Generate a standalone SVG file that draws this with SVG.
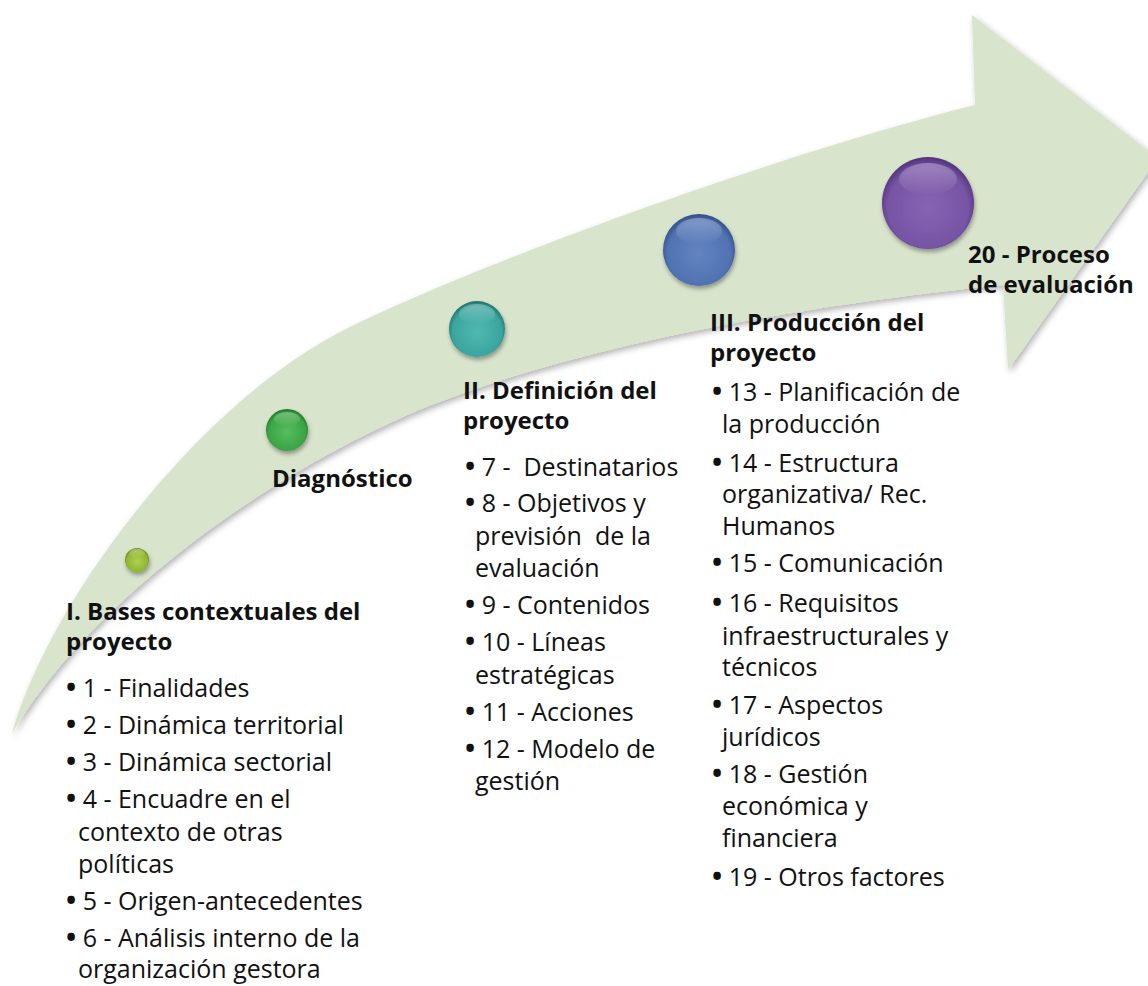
<svg xmlns="http://www.w3.org/2000/svg" width="1148" height="986" viewBox="0 0 1148 986">
<style>
text{font-family:"Open Sans","Noto Sans","Liberation Sans",sans-serif;fill:#111}
.h{font-size:24px;font-weight:bold}
.b{font-size:25px}
.bu{font-weight:bold;font-size:27px}
</style>
<defs>
<filter id="sh" x="-10%" y="-10%" width="120%" height="120%">
<feDropShadow dx="2" dy="3" stdDeviation="3" flood-color="#000" flood-opacity="0.3"/>
</filter>
<filter id="ssh" x="-40%" y="-40%" width="180%" height="180%">
<feDropShadow dx="1" dy="3" stdDeviation="2" flood-color="#000" flood-opacity="0.35"/>
</filter>
<radialGradient id="gYg" cx="50%" cy="55%" r="55%">
<stop offset="0" stop-color="#afd150"/><stop offset="0.8" stop-color="#8fb632"/><stop offset="1" stop-color="#5f7f1a"/>
</radialGradient>
<radialGradient id="gGr" cx="50%" cy="55%" r="55%">
<stop offset="0" stop-color="#56bd5f"/><stop offset="0.8" stop-color="#3aa445"/><stop offset="1" stop-color="#22742b"/>
</radialGradient>
<radialGradient id="gTe" cx="50%" cy="55%" r="55%">
<stop offset="0" stop-color="#4fb9b2"/><stop offset="0.8" stop-color="#3aa59e"/><stop offset="1" stop-color="#216e69"/>
</radialGradient>
<radialGradient id="gBl" cx="50%" cy="55%" r="55%">
<stop offset="0" stop-color="#6384c0"/><stop offset="0.8" stop-color="#5072b2"/><stop offset="1" stop-color="#304e88"/>
</radialGradient>
<radialGradient id="gPu" cx="50%" cy="55%" r="55%">
<stop offset="0" stop-color="#8865b4"/><stop offset="0.8" stop-color="#7753a4"/><stop offset="1" stop-color="#4f3278"/>
</radialGradient>
<linearGradient id="hl" x1="0" y1="0" x2="0" y2="1">
<stop offset="0" stop-color="#fff" stop-opacity="0.3"/><stop offset="1" stop-color="#fff" stop-opacity="0"/>
</linearGradient>
</defs>

<g id="arrow">
<path d="M 12,733 C 50,600 200,400 350,327 C 500,254 795,150 975,105 L 972,15 L 1158,158 L 1008,370 L 1003,285 C 850,300 620,335 453,397 C 330,440 110,570 12,733 Z" fill="#d9e4cd" filter="url(#sh)"/>
</g>

<g id="stage1">
<circle cx="137" cy="560" r="12" fill="url(#gYg)" filter="url(#ssh)"/>
<ellipse cx="137" cy="553" rx="8" ry="4.5" fill="url(#hl)"/>
<text class="h" x="66" y="620">I. Bases contextuales del</text>
<text class="h" x="66" y="650">proyecto</text>
<text class="b" x="66" y="697"><tspan class="bu">•</tspan> 1 - Finalidades</text>
<text class="b" x="66" y="734"><tspan class="bu">•</tspan> 2 - Dinámica territorial</text>
<text class="b" x="66" y="771"><tspan class="bu">•</tspan> 3 - Dinámica sectorial</text>
<text class="b" x="66" y="808"><tspan class="bu">•</tspan> 4 - Encuadre en el</text>
<text class="b" x="78" y="841">contexto de otras</text>
<text class="b" x="78" y="873">políticas</text>
<text class="b" x="66" y="910"><tspan class="bu">•</tspan> 5 - Origen-antecedentes</text>
<text class="b" x="66" y="947"><tspan class="bu">•</tspan> 6 - Análisis interno de la</text>
<text class="b" x="78" y="978">organización gestora</text>
</g>

<g id="diagnostico">
<circle cx="287" cy="430" r="21" fill="url(#gGr)" filter="url(#ssh)"/>
<ellipse cx="287" cy="419" rx="13" ry="7" fill="url(#hl)"/>
<text class="h" x="272" y="487">Diagnóstico</text>
</g>

<g id="stage2">
<circle cx="477" cy="329" r="28" fill="url(#gTe)" filter="url(#ssh)"/>
<ellipse cx="477" cy="314" rx="18" ry="10" fill="url(#hl)"/>
<text class="h" x="463" y="399">II. Definición del</text>
<text class="h" x="463" y="429">proyecto</text>
<text class="b" x="465" y="476" xml:space="preserve"><tspan class="bu">•</tspan> 7 -  Destinatarios</text>
<text class="b" x="465" y="512"><tspan class="bu">•</tspan> 8 - Objetivos y</text>
<text class="b" x="475" y="545" xml:space="preserve">previsión  de la</text>
<text class="b" x="475" y="577">evaluación</text>
<text class="b" x="465" y="614"><tspan class="bu">•</tspan> 9 - Contenidos</text>
<text class="b" x="465" y="651"><tspan class="bu">•</tspan> 10 - Líneas</text>
<text class="b" x="475" y="684">estratégicas</text>
<text class="b" x="465" y="721"><tspan class="bu">•</tspan> 11 - Acciones</text>
<text class="b" x="465" y="758"><tspan class="bu">•</tspan> 12 - Modelo de</text>
<text class="b" x="475" y="790">gestión</text>
</g>

<g id="stage3">
<circle cx="699" cy="250" r="36" fill="url(#gBl)" filter="url(#ssh)"/>
<ellipse cx="699" cy="231" rx="23" ry="13" fill="url(#hl)"/>
<text class="h" x="710" y="331">III. Producción del</text>
<text class="h" x="710" y="361">proyecto</text>
<text class="b" x="712" y="401"><tspan class="bu">•</tspan> 13 - Planificación de</text>
<text class="b" x="722" y="433">la producción</text>
<text class="b" x="712" y="472"><tspan class="bu">•</tspan> 14 - Estructura</text>
<text class="b" x="722" y="503">organizativa/ Rec.</text>
<text class="b" x="722" y="535">Humanos</text>
<text class="b" x="712" y="572"><tspan class="bu">•</tspan> 15 - Comunicación</text>
<text class="b" x="712" y="612"><tspan class="bu">•</tspan> 16 - Requisitos</text>
<text class="b" x="722" y="645">infraestructurales y</text>
<text class="b" x="722" y="676">técnicos</text>
<text class="b" x="712" y="714"><tspan class="bu">•</tspan> 17 - Aspectos</text>
<text class="b" x="722" y="746">jurídicos</text>
<text class="b" x="712" y="783"><tspan class="bu">•</tspan> 18 - Gestión</text>
<text class="b" x="722" y="815">económica y</text>
<text class="b" x="722" y="847">financiera</text>
<text class="b" x="712" y="886"><tspan class="bu">•</tspan> 19 - Otros factores</text>
</g>

<g id="stage4">
<circle cx="928" cy="203" r="46" fill="url(#gPu)" filter="url(#ssh)"/>
<ellipse cx="928" cy="179" rx="29" ry="16" fill="url(#hl)"/>
<text class="h" x="968" y="263">20 - Proceso</text>
<text class="h" x="968" y="293">de evaluación</text>
</g>
</svg>
